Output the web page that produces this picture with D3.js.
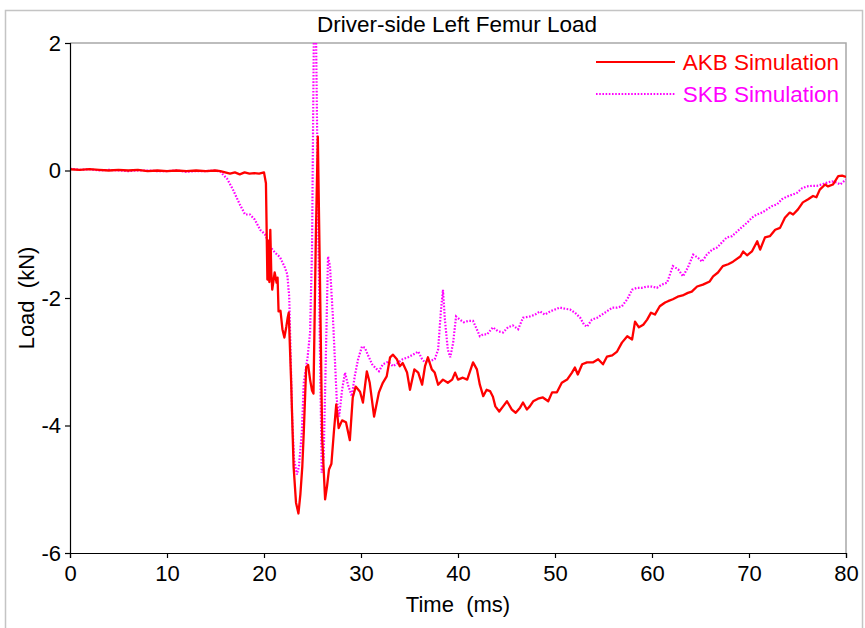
<!DOCTYPE html>
<html>
<head>
<meta charset="utf-8">
<script src="https://cdn.jsdelivr.net/npm/d3@7"></script>
<style>
  body { margin: 0; background: #fff; }
  text { font-family: "Liberation Sans", Arial, sans-serif; }
</style>
</head>
<body>
<script>
var width = 865,
    height = 628;

var margin = {top: 43, right: 19, bottom: 75, left: 70};

var seriesNames = ["AKB Simulation", "SKB Simulation"];
var seriesColors = ["#ff0000", "#ff00ff"];

var xTicks = [0, 10, 20, 30, 40, 50, 60, 70, 80];
var yTicks = [-6, -4, -2, 0, 2];

// AKB Simulation: time (ms) and load (kN)
var akbTime = [0, 1, 2, 3, 4, 5, 6, 7, 8, 9, 10, 11, 12, 13, 14, 15, 15.5, 16, 16.5, 17, 17.5, 18, 18.5, 19, 19.5, 20.0, 20.2,
  20.35, 20.45, 20.55, 20.65, 20.75, 20.85, 21.1, 21.3, 21.4, 21.5, 21.7, 21.9, 22.1, 22.3, 22.45, 22.55, 22.8, 23.05, 23.3, 23.55,
  23.75, 23.95, 24.1, 24.35, 24.55, 24.75, 24.95, 25.1, 25.35, 25.55, 25.75, 26.0, 26.3, 26.5, 26.7, 26.95, 27.2, 27.45, 27.7,
  28.05, 28.45, 28.85, 29.15, 29.45, 29.9, 30.2, 30.6, 30.9, 31.35, 31.85, 32.25, 32.65, 33.0, 33.3, 33.7, 34.0, 34.3, 34.75,
  35.05, 35.5, 35.9, 36.3, 36.6, 36.9, 37.3, 37.6, 37.95, 38.45, 38.95, 39.4, 39.7, 40.0, 40.5, 40.95, 41.55, 41.95, 42.25, 42.6,
  42.95, 43.3, 43.6, 43.85, 44.25, 44.65, 45.05, 45.55, 45.95, 46.4, 46.7, 47.1, 47.4, 47.75, 48.25, 48.75, 49.3, 49.7, 50.2,
  50.7, 51.25, 51.75, 52.05, 52.35, 52.8, 53.3, 53.9, 54.45, 54.95, 55.35, 55.9, 56.4, 56.9, 57.45, 57.95, 58.25, 58.65, 59.1,
  59.5, 59.9, 60.3, 60.8, 61.35, 61.65, 62.15, 62.65, 63.15, 63.7, 64.1, 64.65, 65.25, 65.95, 66.3, 66.8, 67.3, 67.85, 68.35,
  69.1, 69.4, 69.8, 70.3, 70.85, 71.15, 71.65, 72.15, 72.7, 73.2, 73.7, 74.2, 74.55, 75.05, 75.55, 76.1, 76.6, 76.95, 77.3,
  77.85, 78.15, 78.65, 79.2, 79.6, 80.0];
var akbLoad = [0.02, 0.01, 0.02, 0.01, 0.0, 0.01, 0.0, 0.01, -0.01, 0.0, -0.01, 0.0, -0.01, 0.0, -0.01, 0.0, -0.01, -0.03, -0.05, -0.03, -0.06, -0.03, -0.05, -0.04, -0.05, -0.03, -0.2,
  -1.71, -1.1, -1.75, -0.93, -1.6, -1.87, -1.6, -1.76, -1.68, -2.21, -2.2, -2.49, -2.62, -2.45, -2.3, -2.23, -3.33, -4.64, -5.21, -5.38,
  -5.08, -4.64, -4.11, -3.09, -3.05, -3.28, -3.45, -3.5, -1.0, 0.53, -1.5, -4.2, -5.16, -4.95, -4.69, -4.6, -4.11, -3.67, -4.04,
  -3.92, -3.95, -4.23, -3.56, -3.39, -3.47, -3.64, -3.15, -3.33, -3.86, -3.48, -3.33, -3.23, -2.93, -2.89, -2.96, -3.07, -3.02, -3.17,
  -3.44, -3.12, -3.17, -3.36, -3.07, -2.93, -3.12, -3.17, -3.36, -3.28, -3.33, -3.28, -3.17, -3.28, -3.25, -3.28, -3.01, -3.12, -3.36, -3.54,
  -3.44, -3.46, -3.55, -3.7, -3.78, -3.7, -3.62, -3.75, -3.8, -3.72, -3.64, -3.75, -3.7, -3.62, -3.58, -3.56, -3.62, -3.48, -3.48,
  -3.33, -3.28, -3.17, -3.09, -3.2, -3.04, -3.01, -3.01, -2.96, -3.04, -2.92, -2.9, -2.84, -2.7, -2.6, -2.65, -2.37, -2.46, -2.42,
  -2.34, -2.23, -2.26, -2.13, -2.07, -2.05, -2.02, -1.98, -1.96, -1.92, -1.9, -1.82, -1.79, -1.74, -1.66, -1.6, -1.5, -1.47, -1.43,
  -1.35, -1.27, -1.33, -1.27, -1.11, -1.24, -1.05, -1.03, -0.93, -0.9, -0.74, -0.66, -0.69, -0.61, -0.5, -0.45, -0.4, -0.42, -0.3,
  -0.22, -0.25, -0.22, -0.09, -0.08, -0.1];

// SKB Simulation
var skbTime = [0, 1, 2, 3, 4, 5, 6, 7, 8, 9, 10, 11, 12, 13, 14, 15, 15.5, 16.2, 16.8, 17.5, 18.05, 18.55, 19.05, 19.6, 20.1,
  20.6, 21.15, 21.65, 22.15, 22.4, 22.6, 22.7, 22.9, 23.1, 23.4, 23.6, 23.9, 24.1, 24.5, 24.75, 24.95, 25.15, 25.35, 25.6, 25.95,
  26.15, 26.6, 26.8, 27.1, 27.5, 27.75, 28.05, 28.35, 28.65, 29.05, 29.35, 29.7, 30.1, 30.4, 30.7, 31.15, 31.45, 31.85, 32.25,
  32.8, 33.3, 33.8, 34.3, 34.85, 35.35, 35.9, 36.3, 36.6, 37.1, 37.6, 37.95, 38.25, 38.45, 38.65, 38.95, 39.2, 39.5, 39.8, 40.2,
  40.6, 41.05, 41.55, 41.85, 42.25, 42.6, 43.0, 43.6, 44.1, 44.65, 45.15, 45.65, 46.2, 46.7, 47.4, 47.95, 48.45, 48.95, 49.5,
  50.0, 50.5, 51.05, 51.55, 52.05, 52.6, 53.0, 53.3, 53.8, 54.35, 54.85, 55.35, 55.9, 56.4, 56.9, 57.45, 57.95, 58.45, 58.95,
  59.5, 60.0, 60.5, 61.0, 61.55, 62.15, 62.7, 63.2, 63.7, 64.25, 64.75, 65.15, 65.65, 66.2, 66.7, 67.2, 67.7, 68.25, 68.75,
  69.25, 69.8, 70.3, 70.8, 71.35, 71.85, 72.35, 72.9, 73.4, 73.9, 74.45, 74.95, 75.45, 75.95, 76.5, 77.0, 77.5, 78.05, 78.55,
  79.05, 79.4, 80.0];
var skbLoad = [0.03, 0.01, 0.02, 0.0, 0.01, 0.0, -0.01, 0.0, 0.0, -0.01, -0.01, 0.0, -0.02, -0.01, -0.01, 0.0, -0.02, -0.13, -0.3, -0.53, -0.69, -0.69, -0.77, -0.93, -1.0,
  -1.19, -1.29, -1.36, -1.52, -1.63, -1.98, -2.6, -3.86, -4.53, -4.77, -4.64, -4.11, -3.33, -2.92, -2.54, -1.24, 2.3, 2.3, -1.0, -4.74,
  -4.5, -1.35, -1.5, -2.29, -3.59, -3.86, -3.44, -3.17, -3.36, -3.54, -3.23, -2.96, -2.76, -2.78, -2.89, -3.04, -3.09, -3.15, -3.04,
  -3.0, -3.07, -3.02, -2.96, -2.93, -2.89, -2.84, -2.96, -3.01, -2.99, -2.96, -2.81, -2.18, -1.87, -2.34, -2.81, -2.93, -2.7, -2.29, -2.34,
  -2.38, -2.36, -2.36, -2.46, -2.6, -2.57, -2.57, -2.46, -2.52, -2.54, -2.46, -2.43, -2.49, -2.31, -2.29, -2.26, -2.21, -2.26, -2.21,
  -2.18, -2.15, -2.17, -2.18, -2.23, -2.31, -2.42, -2.45, -2.34, -2.31, -2.26, -2.21, -2.15, -2.15, -2.13, -2.02, -1.87, -1.84, -1.84,
  -1.82, -1.82, -1.84, -1.79, -1.76, -1.5, -1.55, -1.66, -1.52, -1.32, -1.37, -1.43, -1.32, -1.24, -1.21, -1.13, -1.05, -1.03, -0.96,
  -0.89, -0.82, -0.74, -0.69, -0.66, -0.61, -0.56, -0.53, -0.45, -0.41, -0.38, -0.35, -0.28, -0.25, -0.24, -0.24, -0.22, -0.19, -0.17,
  -0.19, -0.22, -0.14];

var akb = akbTime.map(function(t, i) { return [t, akbLoad[i]]; });
var skb = skbTime.map(function(t, i) { return [t, skbLoad[i]]; });

var x = d3.scaleLinear()
    .domain([0, 80])
    .range([margin.left, width - margin.right]);

var y = d3.scaleLinear()
    .domain([-6, 2])
    .range([height - margin.bottom, margin.top]);

var svg = d3.select("body")
    .append("svg")
    .attr("width", width)
    .attr("height", height);

// outer frame
svg.append("rect")
    .attr("x", 5.5)
    .attr("y", 10.5)
    .attr("width", 857)
    .attr("height", 640)
    .attr("fill", "none")
    .attr("stroke", "#c4c4c4")
    .attr("stroke-width", 1.5);

// plot frame (top and right grey)
svg.append("path")
    .attr("d", "M" + x(0) + "," + y(2) + "H" + x(80) + "V" + y(-6))
    .attr("fill", "none")
    .attr("stroke", "#a8a8a8")
    .attr("stroke-width", 1.5);

svg.append("defs").append("clipPath")
    .attr("id", "plotclip")
    .append("rect")
    .attr("x", x(0))
    .attr("y", y(2))
    .attr("width", x(80) - x(0))
    .attr("height", y(-6) - y(2));

var line = d3.line()
    .x(function(d) { return x(d[0]); })
    .y(function(d) { return y(d[1]); });

var plot = svg.append("g").attr("clip-path", "url(#plotclip)");

plot.append("path")
    .datum(skb)
    .attr("d", line)
    .attr("fill", "none")
    .attr("stroke", seriesColors[1])
    .attr("stroke-width", 2.2)
    .attr("stroke-dasharray", "1.6,1.6");

plot.append("path")
    .datum(akb)
    .attr("d", line)
    .attr("fill", "none")
    .attr("stroke", seriesColors[0])
    .attr("stroke-width", 2.3)
    .attr("stroke-linejoin", "round");

// plain hyphen for negatives, like the original
var fmt = function(d) { return String(d); };

var xAxis = d3.axisBottom(x).tickValues(xTicks).tickFormat(fmt).tickSize(5).tickPadding(7);
var yAxis = d3.axisLeft(y).tickValues(yTicks).tickFormat(fmt).tickSize(5).tickPadding(4);

svg.append("g")
    .attr("class", "axis")
    .attr("transform", "translate(0," + y(-6) + ")")
    .call(xAxis);

svg.append("g")
    .attr("class", "axis")
    .attr("transform", "translate(" + x(0) + ",0)")
    .call(yAxis);

svg.selectAll(".axis text")
    .attr("fill", "#000")
    .style("font-size", "22px");
svg.selectAll(".axis path, .axis line")
    .attr("stroke", "#000")
    .attr("stroke-width", 1.2);

// titles
svg.append("text")
    .attr("x", 457)
    .attr("y", 32)
    .attr("text-anchor", "middle")
    .style("font-size", "22.5px")
    .text("Driver-side Left Femur Load");

svg.append("text")
    .attr("x", 458)
    .attr("y", 612)
    .attr("text-anchor", "middle")
    .style("font-size", "22px")
    .style("white-space", "pre")
    .text("Time  (ms)");

svg.append("text")
    .attr("transform", "translate(34,298) rotate(-90)")
    .attr("text-anchor", "middle")
    .style("font-size", "22px")
    .style("white-space", "pre")
    .text("Load  (kN)");

// legend
var legend = svg.selectAll(".legend")
    .data(seriesNames)
    .enter()
    .append("g")
    .attr("class", "legend")
    .attr("transform", function(d, i) {
        return "translate(0," + (62 + i * 32) + ")";
    });

legend.append("line")
    .attr("x1", 596)
    .attr("x2", 675)
    .attr("stroke", function(d, i) { return seriesColors[i]; })
    .attr("stroke-width", 2.2)
    .attr("stroke-dasharray", function(d, i) { return i == 1 ? "1.6,1.6" : null; });

legend.append("text")
    .attr("x", 839)
    .attr("y", 8)
    .attr("text-anchor", "end")
    .attr("fill", function(d, i) { return seriesColors[i]; })
    .style("font-size", "22.5px")
    .text(function(d) { return d; });
</script>
</body>
</html>
